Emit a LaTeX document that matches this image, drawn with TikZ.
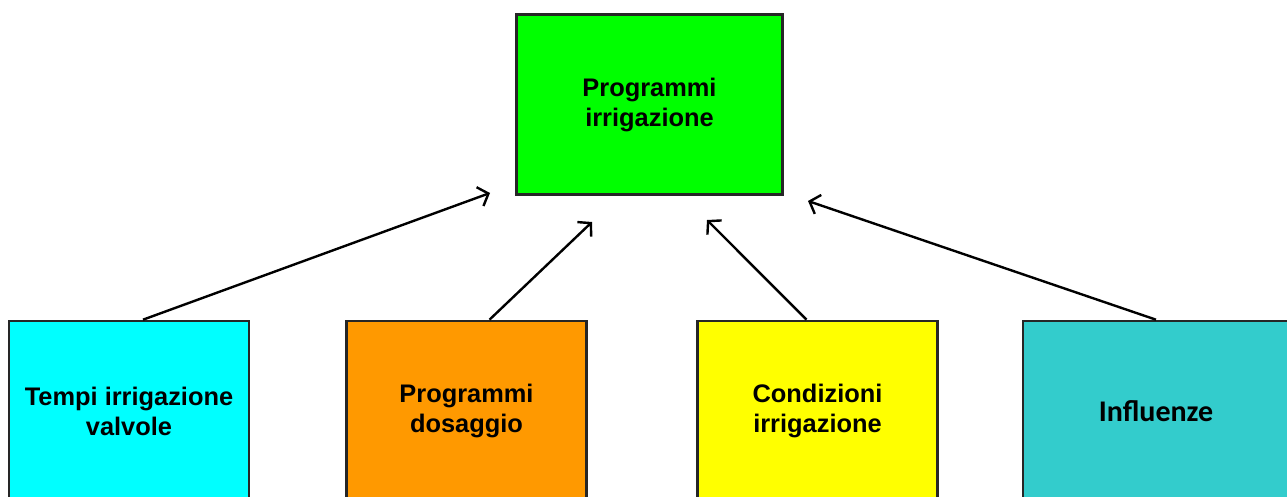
\documentclass[tikz,border=0pt]{standalone}
\usepackage{fontspec}
\setmainfont{Liberation Sans}
\newfontfamily\calibrifont{Carlito}
\usetikzlibrary{arrows.meta}

\begin{document}
\begin{tikzpicture}[x=0.5pt, y=-0.5pt,
      box/.style={draw=black!85, line width=1.3pt, align=center, inner sep=0pt,
        minimum width=120pt, minimum height=90pt,
        font=\fontsize{12.7}{15}\selectfont\bfseries},
      arrow/.style={-{Straight Barb[length=4.5pt, width=10pt]}, line width=1.2pt}
    ]
      \useasboundingbox (0,0) rectangle (1287,497);
      \clip (0,0) rectangle (1287,497);
      \node[box, fill={rgb,255:red,0;green,255;blue,0}, minimum width=133pt] (prog) at (649.5,104.5) {Programmi\\irrigazione};
      \node[box, fill={rgb,255:red,0;green,255;blue,255}] (tempi) at (129,411) {Tempi irrigazione\\valvole};
      \node[box, fill={rgb,255:red,255;green,153;blue,0}] (dos) at (466.5,411) {Programmi\\dosaggio};
      \node[box, fill={rgb,255:red,255;green,255;blue,0}] (cond) at (817.5,411) {Condizioni\\irrigazione};
      \node[box, fill={rgb,255:red,51;green,204;blue,204}, minimum width=133pt,
        font=\fontsize{15}{18}\selectfont\calibrifont\bfseries] (infl) at (1156,411) {Influenze};
      % free ends of the arrows, below the top box
      \coordinate (tip1) at (490,193);
      \coordinate (tip2) at (592,222);
      \coordinate (tip3) at (707,220);
      \coordinate (tip4) at (808,201);
      \draw[arrow] ([xshift=7pt]tempi.north) -- (tip1);
      \draw[arrow] ([xshift=11.5pt]dos.north) -- (tip2);
      \draw[arrow] ([xshift=-5.5pt]cond.north) -- (tip3);
      \draw[arrow] (infl.north) -- (tip4);
    \end{tikzpicture}
\end{document}
